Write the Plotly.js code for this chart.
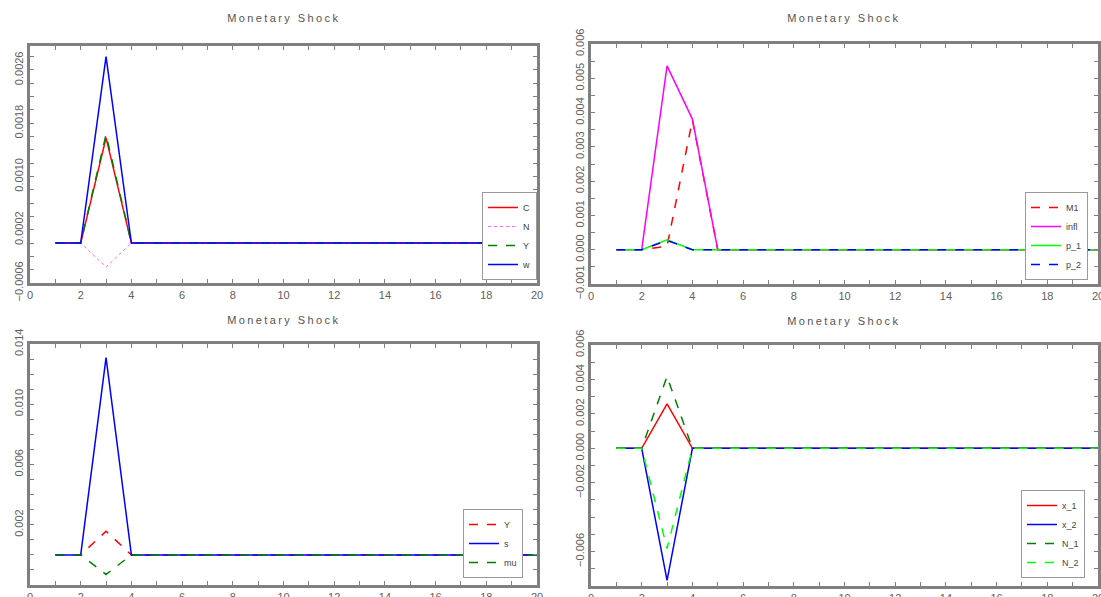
<!DOCTYPE html>
<html>
<head>
<meta charset="utf-8">
<script src="https://cdn.plot.ly/plotly-3.0.1.min.js"></script>
<style>
html,body{margin:0;padding:0;background:#fff;}
#chart{width:1101px;height:597px;}
#chart .annotation-text{letter-spacing:2.4px;}
</style>
</head>
<body>
<div id="chart"></div>
<script>
// periods
var periods = [1,2,3,4,5,6,7,8,9,10,11,12,13,14,15,16,17,18,19,20];

// panel 1
var C  = [0,0,0.00158,0,0,0,0,0,0,0,0,0,0,0,0,0,0,0,0,0];
var N  = [0,0,-0.00036,0,0,0,0,0,0,0,0,0,0,0,0,0,0,0,0,0];
var Y1 = [0,0,0.00163,0,0,0,0,0,0,0,0,0,0,0,0,0,0,0,0,0];
var w  = [0,0,0.0028,0,0,0,0,0,0,0,0,0,0,0,0,0,0,0,0,0];

// panel 2
var M1   = [0,0,0.0001,0.00378,0,0,0,0,0,0,0,0,0,0,0,0,0,0,0,0];
var infl = [0,0,0.00536,0.00381,0,0,0,0,0,0,0,0,0,0,0,0,0,0,0,0];
var p_1  = [0,0,0.00029,0,0,0,0,0,0,0,0,0,0,0,0,0,0,0,0,0];
var p_2  = [0,0,0.00027,0,0,0,0,0,0,0,0,0,0,0,0,0,0,0,0,0];

// panel 3
var Y3 = [0,0,0.00157,0,0,0,0,0,0,0,0,0,0,0,0,0,0,0,0,0];
var s  = [0,0,0.0131,0,0,0,0,0,0,0,0,0,0,0,0,0,0,0,0,0];
var mu = [0,0,-0.0013,0,0,0,0,0,0,0,0,0,0,0,0,0,0,0,0,0];

// panel 4
var x_1 = [0,0,0.00258,0,0,0,0,0,0,0,0,0,0,0,0,0,0,0,0,0];
var x_2 = [0,0,-0.00767,0,0,0,0,0,0,0,0,0,0,0,0,0,0,0,0,0];
var N_1 = [0,0,0.00417,0,0,0,0,0,0,0,0,0,0,0,0,0,0,0,0,0];
var N_2 = [0,0,-0.00582,0,0,0,0,0,0,0,0,0,0,0,0,0,0,0,0,0];

// labelled y ticks per panel
var yTicks1 = [-0.0006, 0.0002, 0.0010, 0.0018, 0.0026];
var yTicks2 = [-0.001, 0, 0.001, 0.002, 0.003, 0.004, 0.005, 0.006];
var yTicks3 = [0.002, 0.006, 0.010, 0.014];
var yTicks4 = [-0.006, -0.002, 0, 0.002, 0.004, 0.006];

var titleText = 'Monetary Shock';

function tr(y, name, color, dash, xa, ya, leg, width) {
  return {x: periods, y: y, name: name, type: 'scatter', mode: 'lines',
    line: {color: color, dash: dash, width: width || 1.5},
    xaxis: xa, yaxis: ya, legend: leg};
}

var data = [
  tr(C,  'C', '#ff0000', 'solid', 'x', 'y', 'legend'),
  tr(N,  'N', '#ff66ff', 'dot',   'x', 'y', 'legend', 1),
  tr(Y1, 'Y', '#008000', 'dash',  'x', 'y', 'legend'),
  tr(w,  'w', '#0000ff', 'solid', 'x', 'y', 'legend'),

  tr(M1,   'M1',   '#ff0000', 'dash',  'x2', 'y2', 'legend2'),
  tr(infl, 'infl', '#ff00ff', 'solid', 'x2', 'y2', 'legend2'),
  tr(p_1,  'p_1',  '#00ff00', 'solid', 'x2', 'y2', 'legend2'),
  tr(p_2,  'p_2',  '#0000ff', 'dash',  'x2', 'y2', 'legend2'),

  tr(Y3, 'Y',  '#ff0000', 'dash',  'x3', 'y3', 'legend3'),
  tr(s,  's',  '#0000ff', 'solid', 'x3', 'y3', 'legend3'),
  tr(mu, 'mu', '#008000', 'dash',  'x3', 'y3', 'legend3'),

  tr(x_1, 'x_1', '#ff0000', 'solid', 'x4', 'y4', 'legend4'),
  tr(x_2, 'x_2', '#0000ff', 'solid', 'x4', 'y4', 'legend4'),
  tr(N_1, 'N_1', '#008000', 'dash',  'x4', 'y4', 'legend4'),
  tr(N_2, 'N_2', '#00ff00', 'dash',  'x4', 'y4', 'legend4')
];

var W = 1101, H = 597;
function dx(a, b) { return [a / W, b / W]; }
function dy(top, bottom) { return [(H - bottom) / H, (H - top) / H]; }

var frameColor = '#808080';
var tickFont = {family: 'Liberation Sans, Arial, sans-serif', size: 11, color: '#606060'};

function xaxis(domain, anchor) {
  return {domain: domain, anchor: anchor, range: [0, 20], tick0: 0, dtick: 2,
    showline: true, linecolor: frameColor, linewidth: 3, mirror: 'ticks',
    ticks: 'inside', ticklen: 4, tickcolor: frameColor, tickwidth: 1,
    ticklabeloverflow: 'allow',
    minor: {dtick: 1, ticks: 'inside', ticklen: 4, tickcolor: frameColor, tickwidth: 1},
    showgrid: false, zeroline: false, tickfont: tickFont, fixedrange: true};
}
function yaxis(domain, anchor, range, vals, fmt, minorTick0, minorStep) {
  return {domain: domain, anchor: anchor, range: range,
    tickmode: 'array', tickvals: vals, tickformat: fmt,
    showline: true, linecolor: frameColor, linewidth: 3, mirror: 'ticks',
    ticks: 'inside', ticklen: 4, tickcolor: frameColor, tickwidth: 1,
    ticklabeloverflow: 'allow',
    minor: {tickmode: 'linear', tick0: minorTick0, dtick: minorStep, ticks: 'inside', ticklen: 4, tickcolor: frameColor, tickwidth: 1},
    tickangle: -90, showgrid: false, zeroline: false, tickfont: tickFont, fixedrange: true};
}

function legend(xRight, yBottom) {
  return {x: xRight / W, xanchor: 'right', y: (H - yBottom) / H, yanchor: 'bottom',
    bgcolor: '#ffffff', bordercolor: '#999999', borderwidth: 1,
    font: {family: 'Liberation Sans, Arial, sans-serif', size: 9, color: '#444'},
    traceorder: 'normal', itemwidth: 30};
}

var titleFont = {family: 'Liberation Sans, Arial, sans-serif', size: 11, color: '#555'};

var layout = {
  width: W, height: H,
  margin: {l: 0, r: 0, t: 0, b: 0},
  paper_bgcolor: '#ffffff', plot_bgcolor: '#ffffff',
  showlegend: true,
  xaxis:  xaxis(dx(30, 537), 'y'),
  yaxis:  yaxis(dy(46, 283), 'x', [-0.0006, 0.00296], yTicks1, '.4f', -0.0006, 0.0002),
  xaxis2: xaxis(dx(591, 1098), 'y2'),
  yaxis2: yaxis(dy(44, 284), 'x2', [-0.001, 0.006], yTicks2, '.3f', 0, 0.0005),
  xaxis3: xaxis(dx(30, 537), 'y3'),
  yaxis3: yaxis(dy(344, 585), 'x3', [-0.002, 0.014], yTicks3, '.3f', 0, 0.001),
  xaxis4: xaxis(dx(591, 1098), 'y4'),
  yaxis4: yaxis(dy(345, 586), 'x4', [-0.008, 0.006], yTicks4, '.3f', 0, 0.001),
  legend:  legend(537, 280),
  legend2: legend(1088, 280),
  legend3: legend(523, 578),
  legend4: legend(1085, 578),
  annotations: [
    {text: titleText, x: 283.5 / W, y: (H - 18) / H, xref: 'paper', yref: 'paper', showarrow: false, xanchor: 'center', yanchor: 'middle', font: titleFont},
    {text: titleText, x: 844.5 / W, y: (H - 18) / H, xref: 'paper', yref: 'paper', showarrow: false, xanchor: 'center', yanchor: 'middle', font: titleFont},
    {text: titleText, x: 283.5 / W, y: (H - 320) / H, xref: 'paper', yref: 'paper', showarrow: false, xanchor: 'center', yanchor: 'middle', font: titleFont},
    {text: titleText, x: 844.5 / W, y: (H - 321) / H, xref: 'paper', yref: 'paper', showarrow: false, xanchor: 'center', yanchor: 'middle', font: titleFont}
  ]
};

Plotly.newPlot('chart', data, layout, {staticPlot: true, displayModeBar: false});
</script>
</body>
</html>
